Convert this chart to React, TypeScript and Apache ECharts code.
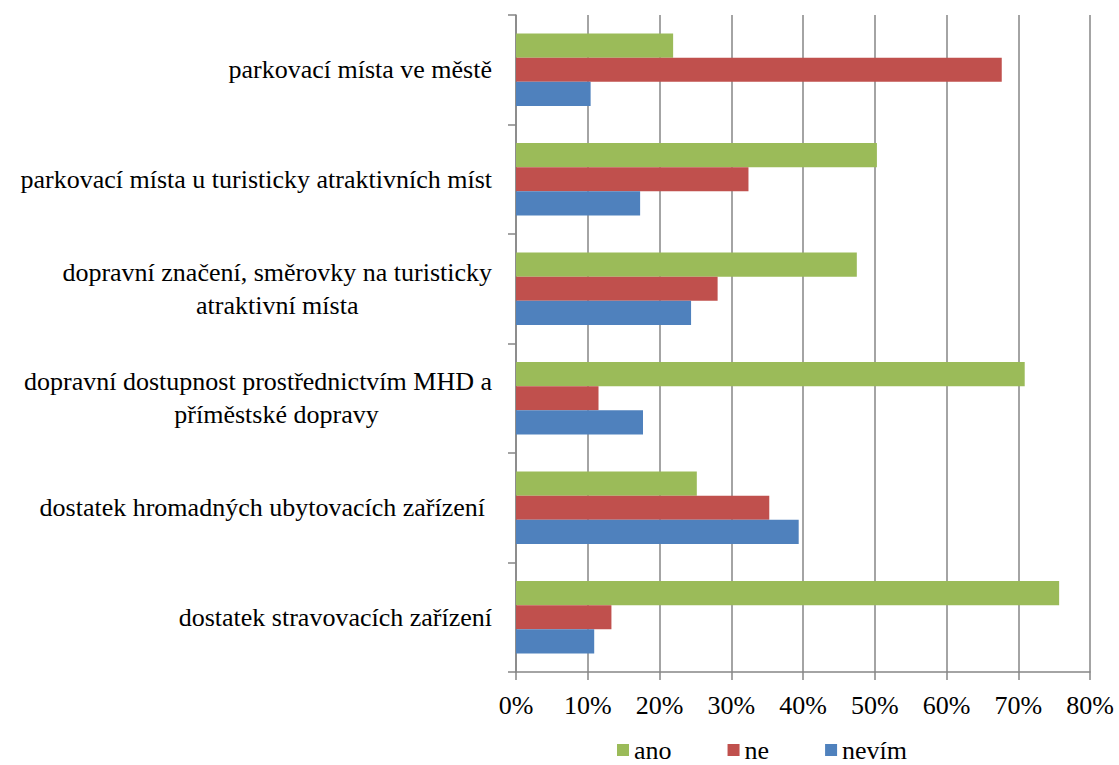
import React, { useEffect, useRef } from "react";
import * as echarts from "echarts";

const categories = [
  "parkovací místa ve městě",
  "parkovací místa u turisticky atraktivních míst",
  "dopravní značení, směrovky na turisticky\natraktivní místa",
  "dopravní dostupnost prostřednictvím MHD a\npříměstské dopravy",
  "dostatek hromadných ubytovacích zařízení",
  "dostatek stravovacích zařízení",
];
const seriesNames = ["ano", "ne", "nevím"];
const ano = [21.9, 50.3, 47.5, 70.9, 25.2, 75.7];
const ne = [67.7, 32.4, 28.1, 11.5, 35.3, 13.3];
const nevim = [10.4, 17.3, 24.4, 17.7, 39.4, 10.9];
const xMin = 0;
const xMax = 80;
const xStep = 10;

const colors = ["#9BBB59", "#C0504D", "#4F81BD"];
const FONT = "Liberation Serif";
const GRAY = "#868686";

export default function App() {
  const ref = useRef<HTMLDivElement>(null);
  useEffect(() => {
    if (!ref.current) return;
    const chart = echarts.init(ref.current, null, { renderer: "svg" });
    const base = { fontSize: 26, fontFamily: FONT, color: "#000", lineHeight: 33, align: "center" };
    const values = [ano, ne, nevim];
    chart.setOption({
      animation: false,
      textStyle: { fontFamily: FONT },
      grid: { left: 516, right: 29, top: 15, bottom: 93, containLabel: false, outerBoundsMode: "none" },
      legend: {
        data: seriesNames,
        left: 612,
        top: 732,
        icon: "rect",
        itemWidth: 12,
        itemHeight: 12,
        itemGap: 56,
        textStyle: { fontSize: 26, fontFamily: FONT, color: "#000", lineHeight: 26 },
      },
      xAxis: {
        type: "value",
        min: xMin,
        max: xMax,
        interval: xStep,
        axisLine: { show: true, lineStyle: { color: GRAY, width: 1.5 } },
        axisTick: { show: true, length: 8, lineStyle: { color: GRAY, width: 1.5 } },
        splitLine: { show: true, lineStyle: { color: GRAY, width: 1.5 } },
        axisLabel: {
          formatter: "{value}%",
          fontSize: 26,
          fontFamily: FONT,
          color: "#000",
          margin: 20,
        },
      },
      yAxis: {
        type: "category",
        inverse: true,
        data: categories,
        axisLine: { show: true, lineStyle: { color: GRAY, width: 1.5 } },
        axisTick: { show: true, length: 8, lineStyle: { color: GRAY, width: 1.5 } },
        axisLabel: {
          margin: 24,
          fontSize: 26,
          fontFamily: FONT,
          color: "#000",
          formatter: (v: string, idx: number) =>
            v
              .split("\n")
              .map((line, li) => {
                let s = "c";
                if (idx === 3 && li === 1) s = "c2";
                if (idx === 4) s = "c5";
                return `{${s}|${line}}`;
              })
              .join("\n"),
          rich: {
            c: { ...base },
            c2: { ...base, padding: [0, 0, 0, 37] },
            c5: { ...base, padding: [0, 7, 0, 0] },
          },
        },
      },
      series: seriesNames.map((name, i) => ({
        name,
        type: "bar",
        data: values[i],
        barGap: "0%",
        barCategoryGap: "33.6%",
        itemStyle: { color: colors[i] },
      })),
    });
    return () => chart.dispose();
  }, []);
  return (
    <div
      ref={ref}
      style={{ position: "absolute", left: 0, top: 0, width: 1119, height: 765, background: "#fff" }}
    />
  );
}
